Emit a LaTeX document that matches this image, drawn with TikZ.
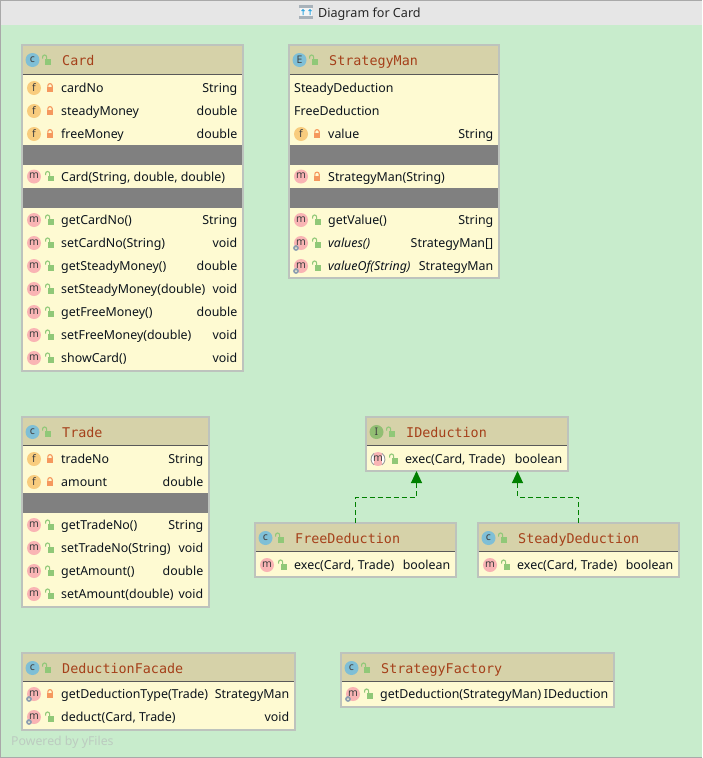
\documentclass[tikz,border=0pt]{standalone}
\usepackage{fontspec}
\usetikzlibrary{calc,arrows.meta}
\setmainfont{Noto Sans}
\newfontfamily\hdrfont{DejaVu Sans Mono}
\definecolor{canvas}{HTML}{C8ECCC}
\definecolor{titlebar}{HTML}{E6E6E6}
\definecolor{edgegray}{HTML}{A9A9A9}
\definecolor{hdrfill}{HTML}{D6D2A9}
\definecolor{rowfill}{HTML}{FEFAD2}
\definecolor{bandgray}{HTML}{808080}
\definecolor{frameline}{HTML}{BDC3BD}
\definecolor{hdrtext}{HTML}{A5401A}
\definecolor{bodytext}{HTML}{0C141C}
\definecolor{iconc}{HTML}{7FBFD6}
\definecolor{iconi}{HTML}{92BE73}
\definecolor{iconf}{HTML}{F8CC7E}
\definecolor{iconm}{HTML}{F9B4B4}
\definecolor{lockgreen}{HTML}{90C878}
\definecolor{lockorange}{HTML}{F5985E}
\definecolor{gearcol}{HTML}{8C9DB0}
\definecolor{implgreen}{HTML}{008000}
\definecolor{yfiles}{HTML}{BCCBC0}
\definecolor{ttlgray}{HTML}{A8B2BA}
\definecolor{ttlblue}{HTML}{35A8E0}
\tikzset{
  classframe/.style={draw=frameline,line width=1.2pt,fill=rowfill,inner sep=0pt,outer sep=0pt,anchor=north west},
  hdrlabel/.style={anchor=base west,inner sep=0pt,text=hdrtext,font=\fontsize{13.4}{14}\hdrfont},
  rowlabel/.style={anchor=base west,inner sep=0pt,text=bodytext,font=\fontsize{12.4}{14}\selectfont},
  typelabel/.style={anchor=base east,inner sep=0pt,text=bodytext,font=\fontsize{12.4}{14}\selectfont},
  iconletter/.style={inner sep=0pt,text=black!75,font=\fontsize{10.5}{11}\selectfont},
  impl/.style={implgreen,line width=1pt,dash pattern=on 5pt off 3pt,-{Triangle[length=12pt,width=11pt]}},
}
\newcount\rowno
\def\nextname{\global\advance\rowno by 1 }
\newcommand{\closedlock}[2]{%
  \draw[lockorange,line width=1.1pt] (#1-2.2,#2) -- (#1-2.2,#2-2.2) arc[start angle=180,end angle=360,radius=2.2] -- (#1+2.2,#2);
  \fill[lockorange] (#1-3.4,#2-1) rectangle (#1+3.4,#2+4.4);}
\newcommand{\openlock}[2]{%
  \draw[lockgreen,line width=1.1pt] (#1-4.4,#2-1.4) -- (#1-4.4,#2-3) arc[start angle=180,end angle=360,radius=2] -- (#1-.4,#2);
  \fill[lockgreen] (#1-2.4,#2-0.6) rectangle (#1+4.2,#2+4.6);}
\newcommand{\gear}[2]{%
  \fill[gearcol] (#1,#2) circle[radius=2.9];
  \fill[rowfill] (#1,#2) circle[radius=1];}
\newcommand{\circicon}[4]{%
  \nextname
  \fill[#3] (#1,#2) circle[radius=7];
  \node[iconletter] (ic\the\rowno) at (#1,#2-0.4) {#4};}
\newcommand{\absicon}[2]{%
  \nextname
  \fill[white] (#1,#2) circle[radius=7];
  \begin{scope}
    \clip (#1,#2) circle[radius=7];
    \fill[iconm] (#1-4,#2-7) rectangle (#1+4,#2+7);
  \end{scope}
  \draw[black!40,line width=.9pt] (#1-4,#2-5.6) arc[start angle=235,end angle=125,radius=7];
  \draw[black!40,line width=.9pt] (#1+4,#2-5.6) arc[start angle=-55,end angle=55,radius=7];
  \node[iconletter] (ic\the\rowno) at (#1,#2-0.4) {m};}
\newcommand{\classbox}[9]{%
  \def\bl{#2}\def\br{#4}%
  \pgfmathsetmacro{\bw}{#4-#2}\pgfmathsetmacro{\bh}{#5-#3}%
  \node[classframe,minimum width=\bw pt,minimum height=\bh pt] (#1) at (#2,#3) {};
  \fill[hdrfill] (#2+.6,#3+.6) rectangle (#4-.6,#6);
  \draw[black!65,line width=.9pt] (#2+.6,#6+.2) -- (#4-.6,#6+.2);
  \circicon{#2+10.5}{#3+15}{#7}{#8}
  \openlock{#2+25}{#3+15}
  \nextname
  \node[hdrlabel] (hd\the\rowno) at (#2+40,#3+20) {#9};}
\newcommand{\band}[2]{\fill[bandgray] (\bl+.6,#1) rectangle (\br-.6,#2);}
\newcommand{\mrow}[5]{%
  \if#2a\relax\absicon{\bl+12}{#1}\else
    \if#2f\relax\circicon{\bl+12}{#1}{iconf}{f}\else\circicon{\bl+12}{#1}{iconm}{m}\fi
    \if#2g\relax\gear{\bl+7}{#1+5}\fi
  \fi
  \if#3c\relax\closedlock{\bl+28}{#1}\else\openlock{\bl+28}{#1}\fi
  \nextname
  \node[rowlabel] (nm\the\rowno) at (\bl+39,#1+4.5) {#4};
  \node[typelabel] (ty\the\rowno) at (\br-5.5,#1+4.5) {#5};}
\newcommand{\plainrow}[2]{%
  \nextname
  \node[rowlabel] (pl\the\rowno) at (\bl+5,#1+4.5) {#2};}
\begin{document}
\begin{tikzpicture}[x=1pt,y=-1pt]
\useasboundingbox (0,0) rectangle (702,758);
\fill[canvas] (0,0) rectangle (702,758);
\fill[titlebar] (0,0) rectangle (702,25);
\draw[edgegray,line width=1pt] (.5,758) -- (.5,.5) -- (702,.5);
\draw[edgegray,line width=1pt] (0,757.5) -- (702,757.5);
% title icon
\fill[white!60!titlebar] (300,8) rectangle (312,16);
\fill[ttlgray] (299,5) rectangle (313,8);
\fill[ttlgray] (299,16) rectangle (313,19);
\draw[ttlblue,line width=1pt] (303,15) -- (303,9.5) (301.5,11) -- (303,9.5) -- (304.5,11);
\draw[ttlblue,line width=1pt] (310,15) -- (310,9.5) (308.5,11) -- (310,9.5) -- (311.5,11);
\node[anchor=base west,inner sep=0pt,text=black!85,font=\fontsize{12.6}{14}\selectfont] (title) at (318,17) {Diagram for Card};
% Card
\classbox{card}{22}{45}{243}{371}{74}{iconc}{c}{Card}
\mrow{88}{f}{c}{cardNo}{String}
\mrow{111}{f}{c}{steadyMoney}{double}
\mrow{134}{f}{c}{freeMoney}{double}
\band{145}{165}
\mrow{176.5}{m}{o}{Card(String, double, double)}{}
\band{188}{208}
\mrow{220}{m}{o}{getCardNo()}{String}
\mrow{243}{m}{o}{setCardNo(String)}{void}
\mrow{266}{m}{o}{getSteadyMoney()}{double}
\mrow{289}{m}{o}{setSteadyMoney(double)}{void}
\mrow{312}{m}{o}{getFreeMoney()}{double}
\mrow{335}{m}{o}{setFreeMoney(double)}{void}
\mrow{358}{m}{o}{showCard()}{void}
% StrategyMan
\classbox{sman}{289}{45}{499}{278}{74}{iconc}{E}{StrategyMan}
\plainrow{88}{SteadyDeduction}
\plainrow{111}{FreeDeduction}
\mrow{134}{f}{c}{value}{String}
\band{145}{165}
\mrow{176.5}{m}{c}{StrategyMan(String)}{}
\band{188}{208}
\mrow{220}{m}{o}{getValue()}{String}
\mrow{243}{g}{o}{\textit{values()}}{StrategyMan[]}
\mrow{266}{g}{o}{\textit{valueOf(String)}}{StrategyMan}
% Trade
\classbox{trade}{22}{417}{209}{607}{445}{iconc}{c}{Trade}
\mrow{459}{f}{c}{tradeNo}{String}
\mrow{482}{f}{c}{amount}{double}
\band{493}{513}
\mrow{525}{m}{o}{getTradeNo()}{String}
\mrow{548}{m}{o}{setTradeNo(String)}{void}
\mrow{571}{m}{o}{getAmount()}{double}
\mrow{594}{m}{o}{setAmount(double)}{void}
% IDeduction
\classbox{ided}{366}{417}{568}{471}{445}{iconi}{I}{IDeduction}
\mrow{459}{a}{o}{exec(Card, Trade)}{boolean}
% FreeDeduction
\classbox{free}{255}{523}{456}{577}{551}{iconc}{c}{FreeDeduction}
\mrow{565}{m}{o}{exec(Card, Trade)}{boolean}
% SteadyDeduction
\classbox{steady}{478}{523}{679}{577}{551}{iconc}{c}{SteadyDeduction}
\mrow{565}{m}{o}{exec(Card, Trade)}{boolean}
% DeductionFacade
\classbox{facade}{22}{653}{295}{730}{681}{iconc}{c}{DeductionFacade}
\mrow{694}{g}{c}{getDeductionType(Trade)}{StrategyMan}
\mrow{717}{g}{o}{deduct(Card, Trade)}{void}
% StrategyFactory
\classbox{factory}{341}{653}{614}{707}{681}{iconc}{c}{StrategyFactory}
\mrow{694}{g}{o}{getDeduction(StrategyMan)}{IDeduction}
% realisation connectors
\coordinate (ifree) at ($(ided.south west)!.25!(ided.south east)$);
\coordinate (isteady) at ($(ided.south west)!.75!(ided.south east)$);
\draw[impl] (free.north) -- ++(0,-26) -| (ifree);
\draw[impl] (steady.north) -- ++(0,-26) -| (isteady);
\node[anchor=base west,inner sep=0pt,text=yfiles,font=\fontsize{12.3}{14}\selectfont] (powered) at (11,745) {Powered by yFiles};
\end{tikzpicture}
\end{document}
